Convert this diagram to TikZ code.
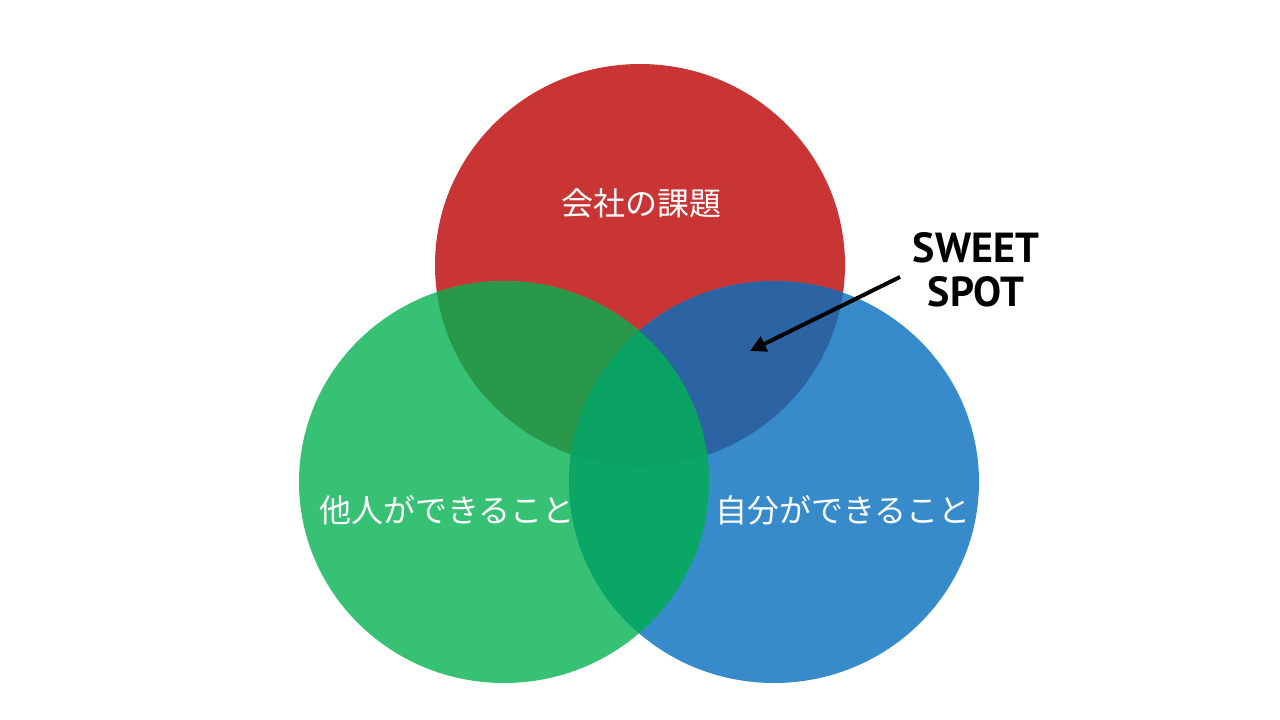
\documentclass[tikz,border=0pt]{standalone}
\usepackage{fontspec}
\newfontfamily\jpfont{Noto Sans CJK JP}
\newfontfamily\labfont{PT Sans}
\usetikzlibrary{arrows.meta}
\definecolor{cred}{HTML}{C93434}
\definecolor{cgreen}{HTML}{37C174}
\definecolor{cblue}{HTML}{378BCA}
\definecolor{crg}{HTML}{2A984A}
\definecolor{crb}{HTML}{2C63A3}
\definecolor{cgb}{HTML}{0AA666}
\definecolor{cmid}{HTML}{0AA262}
\tikzset{
  setlabel/.style={text=white,font=\jpfont\fontsize{32}{38}\selectfont,inner sep=0pt},
  spotlabel/.style={text=black,font=\labfont\bfseries\fontsize{42}{44}\selectfont,align=center,inner sep=0pt},
  pointer/.style={draw=black,line width=4pt,-{Triangle[length=16pt,width=16pt]}}
}
\begin{document}
\begin{tikzpicture}[x=1pt,y=-1pt]
\useasboundingbox (0,0) rectangle (1280,720);
\fill[white] (0,0) rectangle (1280,720);
\def\redpath{(640,265) ellipse [x radius=205,y radius=201]}
\def\greenpath{(504,482) ellipse [x radius=205,y radius=201]}
\def\bluepath{(774,482) ellipse [x radius=205,y radius=201]}
\fill[cred] \redpath;
\fill[cgreen] \greenpath;
\fill[cblue] \bluepath;
\begin{scope}\clip \redpath; \fill[crg] \greenpath; \fill[crb] \bluepath;\end{scope}
\begin{scope}\clip \greenpath; \fill[cgb] \bluepath;\end{scope}
\begin{scope}\clip \redpath; \clip \greenpath; \fill[cmid] \bluepath;\end{scope}
\node[setlabel] (company) at (641,203) {会社の課題};
\node[setlabel] (others) at (447,510) {他人ができること};
\node[setlabel] (self) at (843,510) {自分ができること};
\node[spotlabel] (spot) at (976,270) {SWEET\\SPOT};
\coordinate (arrstart) at (900,277);
\coordinate (arrtip) at (750,351);
\draw[pointer] (arrstart) -- (arrtip);
\end{tikzpicture}
\end{document}
